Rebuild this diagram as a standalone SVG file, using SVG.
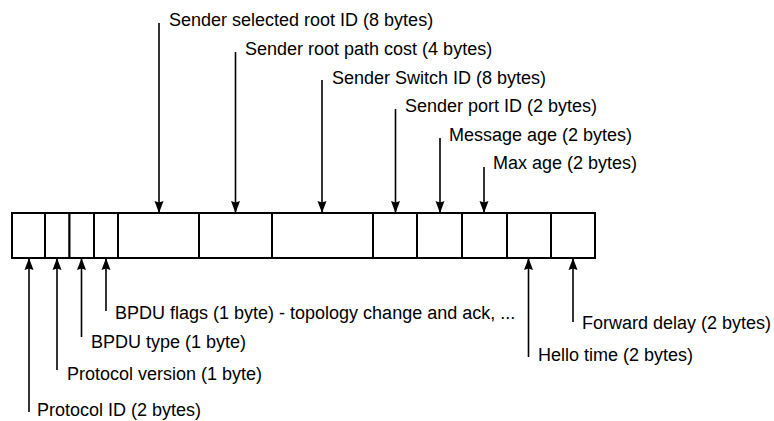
<svg xmlns="http://www.w3.org/2000/svg" width="774" height="421" viewBox="0 0 774 421">
<style>
.field{fill:#fff;stroke:#000;stroke-width:2}
.lbl{font-family:"Liberation Sans",Arial,sans-serif;font-size:18px;fill:#000}
.conn{stroke:#000;stroke-width:1.6;fill:none;marker-end:url(#ah)}
</style>
<defs>
<marker id="ah" markerUnits="userSpaceOnUse" markerWidth="12" markerHeight="10" viewBox="0 0 12 10" refX="12" refY="5" orient="auto">
<path d="M0,0.5 L12,5 L0,9.5 L1.5,5 z" fill="#000"/>
</marker>
</defs>
<rect width="774" height="421" fill="#fff"/>
<g id="fields">
<g id="protocol-id"><rect class="field" x="12" y="213" width="33" height="45"/></g>
<g id="protocol-version"><rect class="field" x="45" y="213" width="24.5" height="45"/></g>
<g id="bpdu-type"><rect class="field" x="69.5" y="213" width="24.5" height="45"/></g>
<g id="bpdu-flags"><rect class="field" x="94" y="213" width="24" height="45"/></g>
<g id="root-id"><rect class="field" x="118" y="213" width="81" height="45"/></g>
<g id="root-path-cost"><rect class="field" x="199" y="213" width="73" height="45"/></g>
<g id="switch-id"><rect class="field" x="272" y="213" width="101" height="45"/></g>
<g id="port-id"><rect class="field" x="373" y="213" width="44" height="45"/></g>
<g id="message-age"><rect class="field" x="417" y="213" width="45" height="45"/></g>
<g id="max-age"><rect class="field" x="462" y="213" width="45" height="45"/></g>
<g id="hello-time"><rect class="field" x="507" y="213" width="44" height="45"/></g>
<g id="forward-delay"><rect class="field" x="551" y="213" width="44" height="45"/></g>
</g>
<g id="connectors">
<line class="conn" x1="159" y1="23" x2="159" y2="213"/>
<line class="conn" x1="235.5" y1="52" x2="235.5" y2="213"/>
<line class="conn" x1="322" y1="80" x2="322" y2="213"/>
<line class="conn" x1="395.5" y1="109" x2="395.5" y2="213"/>
<line class="conn" x1="440" y1="138" x2="440" y2="213"/>
<line class="conn" x1="484" y1="167" x2="484" y2="213"/>
<line class="conn" x1="29" y1="412" x2="29" y2="258"/>
<line class="conn" x1="57" y1="370" x2="57" y2="258"/>
<line class="conn" x1="81.5" y1="337" x2="81.5" y2="258"/>
<line class="conn" x1="106" y1="311" x2="106" y2="258"/>
<line class="conn" x1="528.5" y1="357" x2="528.5" y2="258"/>
<line class="conn" x1="573" y1="322" x2="573" y2="258"/>
</g>
<g id="labels">
<text class="lbl" x="169" y="26">Sender selected root ID (8 bytes)</text>
<text class="lbl" x="245" y="55">Sender root path cost (4 bytes)</text>
<text class="lbl" x="332" y="84">Sender Switch ID (8 bytes)</text>
<text class="lbl" x="405" y="112">Sender port ID (2 bytes)</text>
<text class="lbl" x="449" y="141">Message age (2 bytes)</text>
<text class="lbl" x="493" y="169">Max age (2 bytes)</text>
<text class="lbl" x="115" y="319">BPDU flags (1 byte) - topology change and ack, ...</text>
<text class="lbl" x="91" y="348">BPDU type (1 byte)</text>
<text class="lbl" x="67" y="380">Protocol version (1 byte)</text>
<text class="lbl" x="37" y="416">Protocol ID (2 bytes)</text>
<text class="lbl" x="582" y="329">Forward delay (2 bytes)</text>
<text class="lbl" x="538" y="361">Hello time (2 bytes)</text>
</g>
</svg>
